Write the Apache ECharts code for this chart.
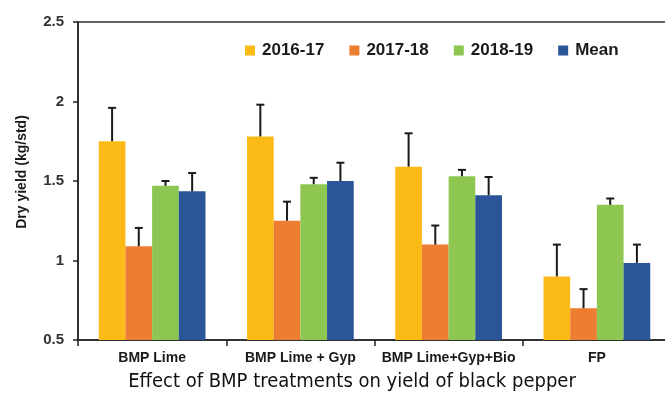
<!DOCTYPE html>
<html>
<head>
<meta charset="utf-8">
<script src="https://cdn.jsdelivr.net/npm/echarts@6/dist/echarts.min.js"></script>
<style>html,body{margin:0;padding:0;background:#fff;overflow:hidden;width:665px;height:402px;}#c{width:672px;height:402px;}</style>
</head>
<body>
<div id="c"></div>
<script>
const categories = ['BMP Lime', 'BMP Lime + Gyp', 'BMP Lime+Gyp+Bio', 'FP'];
const seriesNames = ['2016-17', '2017-18', '2018-19', 'Mean'];
const y2016 = [1.75, 1.78, 1.59, 0.90];
const y2017 = [1.09, 1.25, 1.10, 0.70];
const y2018 = [1.47, 1.48, 1.53, 1.35];
const yMean = [1.435, 1.50, 1.41, 0.985];
const e2016 = [0.21, 0.20, 0.21, 0.20];
const e2017 = [0.115, 0.12, 0.12, 0.12];
const e2018 = [0.03, 0.04, 0.04, 0.04];
const eMean = [0.115, 0.115, 0.115, 0.115];
const yTicks = [0.5, 1, 1.5, 2, 2.5];
const colors = ['#FBBA16', '#ED7D31', '#8DC650', '#2A5599'];

const values = [y2016, y2017, y2018, yMean];
const errors = [e2016, e2017, e2018, eMean];
const gapPct = 0.28;

const chart = echarts.init(document.getElementById('c'), null, {renderer: 'canvas'});
const series = [];
values.forEach((v, i) => {
  series.push({
    name: seriesNames[i], type: 'bar', data: v,
    barGap: '0%', barCategoryGap: (gapPct * 100) + '%',
    itemStyle: {color: colors[i]}, z: 2
  });
});
values.forEach((v, i) => {
  series.push({
    type: 'custom', name: 'err' + i, z: 5, silent: true,
    data: v.map((val, k) => [k, val, val + errors[i][k]]),
    renderItem: function (params, api) {
      const k = api.value(0);
      const band = api.size([1, 0])[0];
      const bw = band * (1 - gapPct) / 4;
      const base = api.coord([k, api.value(1)]);
      const top = api.coord([k, api.value(2)]);
      const x = base[0] + (i - 1.5) * bw;
      const cap = 4;
      const st = {stroke: '#1a1a1a', lineWidth: 2};
      return {
        type: 'group', children: [
          {type: 'line', shape: {x1: x, y1: base[1], x2: x, y2: top[1]}, style: st},
          {type: 'line', shape: {x1: x - cap, y1: top[1], x2: x + cap, y2: top[1]}, style: st}
        ]
      };
    }
  });
});

chart.setOption({
  animation: false,
  backgroundColor: '#fff',
  grid: {left: 78, right: 1, top: 22, bottom: 62, show: true, borderColor: '#333', borderWidth: 1.5, backgroundColor: 'transparent'},
  legend: {
    data: seriesNames, left: 240, top: 37, itemWidth: 10, itemHeight: 10, itemGap: 25,
    icon: 'rect',
    textStyle: {fontSize: 17, fontWeight: 'bold', color: '#1a1a1a', fontFamily: 'Liberation Sans, Arial, sans-serif', padding: [0, 0, 0, 2]}
  },
  xAxis: {
    type: 'category', data: categories,
    axisLine: {lineStyle: {color: '#222', width: 1.5}},
    axisTick: {show: true, length: 6, lineStyle: {color: '#222', width: 1.5}},
    axisLabel: {interval: 0, fontSize: 14, fontWeight: 'bold', color: '#1a1a1a', margin: 11, fontFamily: 'Liberation Sans, Arial, sans-serif'}
  },
  yAxis: {
    type: 'value', min: yTicks[0], max: yTicks[yTicks.length - 1], interval: 0.5,
    name: 'Dry yield (kg/std)', nameLocation: 'middle', nameGap: 49, nameRotate: 90,
    nameTextStyle: {fontSize: 14, fontWeight: 'bold', color: '#1a1a1a', fontFamily: 'Liberation Sans, Arial, sans-serif', padding: [0, 0, 0, 18]},
    axisLine: {show: true, lineStyle: {color: '#222', width: 1.5}},
    axisTick: {show: true, length: 5, lineStyle: {color: '#222', width: 1.5}},
    splitLine: {show: false},
    axisLabel: {fontSize: 15, fontWeight: 'bold', color: '#333', margin: 14, fontFamily: 'Liberation Sans, Arial, sans-serif',
      formatter: v => String(v)}
  },
  graphic: [{
    type: 'text', x: 352, y: 382,
    style: {text: 'Effect of BMP treatments on yield of black pepper', fill: '#111',
      font: '20px "Liberation Sans Narrow", "DejaVu Sans Condensed", "Liberation Sans", sans-serif',
      textAlign: 'center', textVerticalAlign: 'middle'}
  }],
  series: series
});
</script>
</body>
</html>
